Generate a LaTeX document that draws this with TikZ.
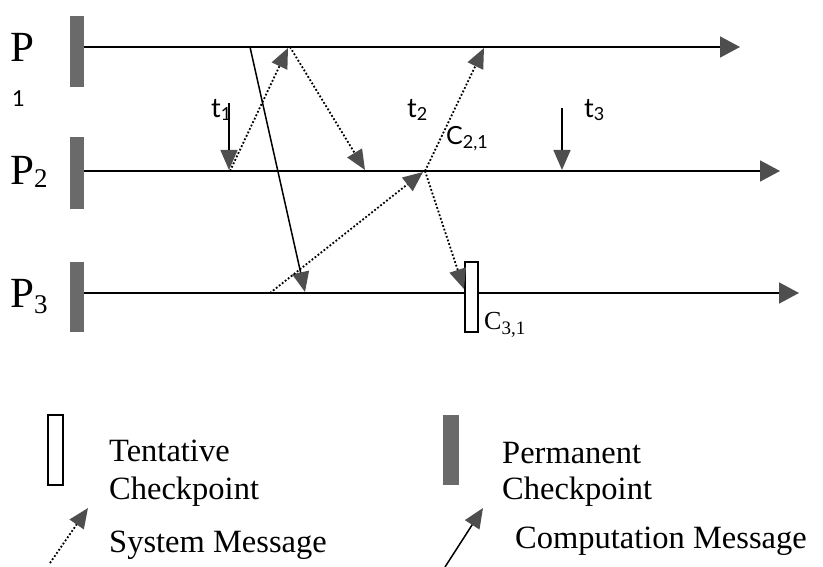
\documentclass[tikz,border=0pt]{standalone}
\usepackage{fontspec}
\setmainfont{Liberation Serif}
\newfontfamily\gillfont{Lato}
\usetikzlibrary{arrows.meta}
\definecolor{ckgray}{HTML}{6A6A6A}
\definecolor{tipgray}{HTML}{4E4E4E}
\begin{document}
\begin{tikzpicture}[x=1pt,y=-1pt,
  proc/.style={line width=1.7pt,-{Triangle[length=20pt,width=21pt,color=tipgray,fill=tipgray]}},
  msgtip/.style={-{Triangle[length=20pt,width=17pt,color=tipgray,fill=tipgray]}},
  comp/.style={line width=1.5pt,msgtip},
  sys/.style={line width=1.8pt,dotted,msgtip},
  perm/.style={draw=none,fill=ckgray,minimum width=14pt,minimum height=71pt,inner sep=0pt},
  tent/.style={draw,line width=1.2pt,fill=white,minimum width=13pt,minimum height=70pt,inner sep=0pt},
  lbl/.style={font=\fontsize{32.5}{36}\selectfont,anchor=base west,inner sep=0pt},
  plbl/.style={anchor=base west,inner sep=0pt},
  tlbl/.style={anchor=base west,inner sep=0pt,font=\gillfont\fontsize{27}{27}\selectfont},
]
\useasboundingbox (0,0) rectangle (823,567);

% process labels
\node[plbl] (lp1) at (10,62) {\fontsize{43}{43}\selectfont P};
\node[plbl] (lp1s) at (12,107) {\gillfont\fontsize{22}{22}\selectfont 1};
\node[plbl] (lp2) at (10,185) {\fontsize{43}{43}\selectfont P\raisebox{-3pt}{\fontsize{27}{27}\selectfont 2}};
\node[plbl] (lp3) at (10,307) {\fontsize{43}{43}\selectfont P\raisebox{-6pt}{\fontsize{27}{27}\selectfont 3}};

% process lines
\coordinate (p1s) at (84,47);  \coordinate (p1e) at (740,47);
\coordinate (p2s) at (84,171); \coordinate (p2e) at (780,171);
\coordinate (p3s) at (84,293); \coordinate (p3e) at (799,293);
\draw[proc] (p1s) -- (p1e);
\draw[proc] (p2s) -- (p2e);
\draw[proc] (p3s) -- (p3e);

% checkpoints
\node[perm] (ck1) at (77,51.5) {};
\node[perm,minimum height=72pt] (ck2) at (77,173) {};
\node[perm,minimum height=70pt] (ck3) at (77,297) {};
\node[tent] (c31) at (471.5,297) {};

% events
\coordinate (a1) at (250,47);  \coordinate (a3) at (305,292);
\coordinate (b2) at (230,171); \coordinate (b1) at (288,48);
\coordinate (c1) at (290,47);  \coordinate (c2) at (365,170);
\coordinate (d2) at (425,171); \coordinate (d1) at (484,48);
\coordinate (e3) at (270,293); \coordinate (e2) at (423,172);
\coordinate (f2) at (425,171); \coordinate (f3) at (464,289);
\coordinate (t1s) at (229,103); \coordinate (t1e) at (229,170);
\coordinate (t3s) at (562,108); \coordinate (t3e) at (562,170);

\draw[comp] (a1) -- (a3);
\draw[sys] (b2) -- (b1);
\draw[sys] (c1) -- (c2);
\draw[sys] (d2) -- (d1);
\draw[sys] (e3) -- (e2);
\draw[sys] (f2) -- (f3);
\draw[comp] (t1s) -- (t1e);
\draw[comp] (t3s) -- (t3e);

% labels
\node[tlbl] (lt1) at (211,118) {t\raisebox{-3pt}{\fontsize{18}{18}\selectfont 1}};
\node[tlbl] (lt2) at (407,118) {t\raisebox{-3pt}{\fontsize{18}{18}\selectfont 2}};
\node[tlbl] (lt3) at (584,118) {t\raisebox{-3pt}{\fontsize{18}{18}\selectfont 3}};
\node[tlbl,font=\gillfont\fontsize{25}{25}\selectfont] (lc21) at (446,145) {C\raisebox{-4pt}{\fontsize{18}{18}\selectfont 2,1}};
\node[plbl] (lc31) at (484,330) {\fontsize{26}{26}\selectfont C\raisebox{-5pt}{\fontsize{19}{19}\selectfont 3,1}};

% legend
\node[tent,minimum width=15pt] (legt) at (55.5,450) {};
\node[lbl] (legt1) at (109,461) {Tentative};
\node[lbl] (legt2) at (109,499) {Checkpoint};
\node[perm,minimum width=16pt,minimum height=70pt] (legp) at (451,450) {};
\node[lbl] (legp1) at (502,463) {Permanent};
\node[lbl] (legp2) at (502,499) {Checkpoint};
\coordinate (ls1) at (50,563); \coordinate (ls2) at (88,508);
\draw[sys] (ls1) -- (ls2);
\node[lbl] (legs) at (109,552) {System Message};
\coordinate (lc1) at (445,567); \coordinate (lc2) at (483,508);
\draw[comp] (lc1) -- (lc2);
\node[lbl] (legc) at (515,548) {Computation Message};
\end{tikzpicture}
\end{document}
